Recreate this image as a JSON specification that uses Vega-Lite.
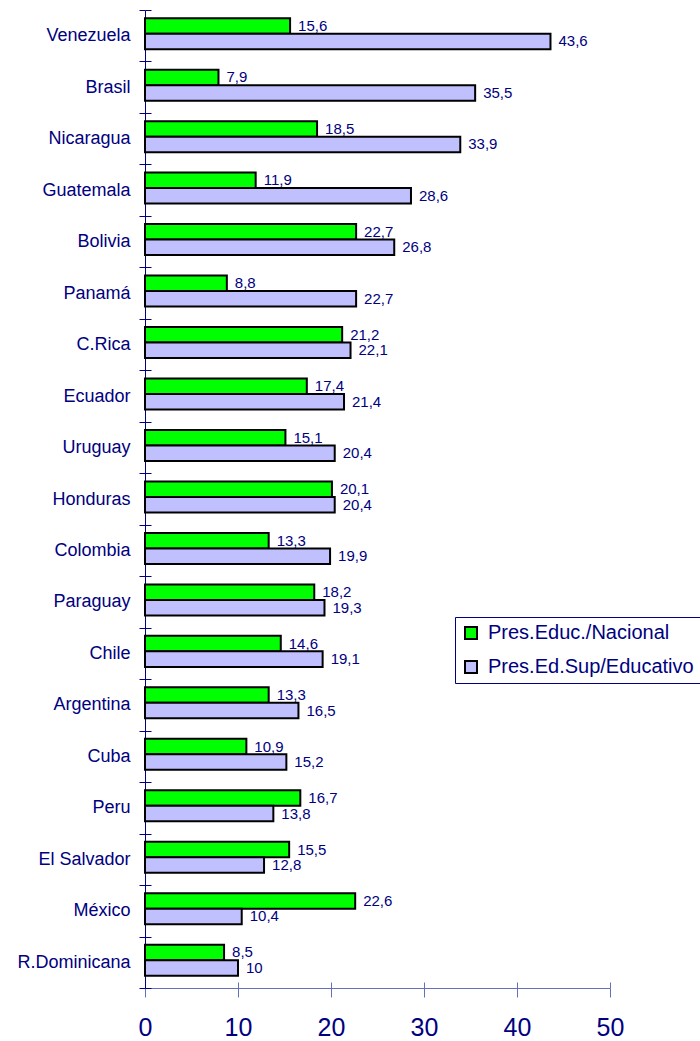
{
  "$schema": "https://vega.github.io/schema/vega-lite/v6.json",
  "width": 465,
  "height": 978,
  "autosize": "none",
  "padding": {"left": 145, "top": 10, "right": 90, "bottom": 53},
  "config": {
    "locale": {"number": {"decimal": ",", "thousands": ".", "grouping": [3], "currency": ["", ""]}},
    "view": {"stroke": null},
    "font": "Liberation Sans"
  },
  "data": {
    "values": [
      {"pais": "Venezuela", "serie": "Pres.Educ./Nacional", "valor": 15.6},
      {"pais": "Venezuela", "serie": "Pres.Ed.Sup/Educativo", "valor": 43.6},
      {"pais": "Brasil", "serie": "Pres.Educ./Nacional", "valor": 7.9},
      {"pais": "Brasil", "serie": "Pres.Ed.Sup/Educativo", "valor": 35.5},
      {"pais": "Nicaragua", "serie": "Pres.Educ./Nacional", "valor": 18.5},
      {"pais": "Nicaragua", "serie": "Pres.Ed.Sup/Educativo", "valor": 33.9},
      {"pais": "Guatemala", "serie": "Pres.Educ./Nacional", "valor": 11.9},
      {"pais": "Guatemala", "serie": "Pres.Ed.Sup/Educativo", "valor": 28.6},
      {"pais": "Bolivia", "serie": "Pres.Educ./Nacional", "valor": 22.7},
      {"pais": "Bolivia", "serie": "Pres.Ed.Sup/Educativo", "valor": 26.8},
      {"pais": "Panamá", "serie": "Pres.Educ./Nacional", "valor": 8.8},
      {"pais": "Panamá", "serie": "Pres.Ed.Sup/Educativo", "valor": 22.7},
      {"pais": "C.Rica", "serie": "Pres.Educ./Nacional", "valor": 21.2},
      {"pais": "C.Rica", "serie": "Pres.Ed.Sup/Educativo", "valor": 22.1},
      {"pais": "Ecuador", "serie": "Pres.Educ./Nacional", "valor": 17.4},
      {"pais": "Ecuador", "serie": "Pres.Ed.Sup/Educativo", "valor": 21.4},
      {"pais": "Uruguay", "serie": "Pres.Educ./Nacional", "valor": 15.1},
      {"pais": "Uruguay", "serie": "Pres.Ed.Sup/Educativo", "valor": 20.4},
      {"pais": "Honduras", "serie": "Pres.Educ./Nacional", "valor": 20.1},
      {"pais": "Honduras", "serie": "Pres.Ed.Sup/Educativo", "valor": 20.4},
      {"pais": "Colombia", "serie": "Pres.Educ./Nacional", "valor": 13.3},
      {"pais": "Colombia", "serie": "Pres.Ed.Sup/Educativo", "valor": 19.9},
      {"pais": "Paraguay", "serie": "Pres.Educ./Nacional", "valor": 18.2},
      {"pais": "Paraguay", "serie": "Pres.Ed.Sup/Educativo", "valor": 19.3},
      {"pais": "Chile", "serie": "Pres.Educ./Nacional", "valor": 14.6},
      {"pais": "Chile", "serie": "Pres.Ed.Sup/Educativo", "valor": 19.1},
      {"pais": "Argentina", "serie": "Pres.Educ./Nacional", "valor": 13.3},
      {"pais": "Argentina", "serie": "Pres.Ed.Sup/Educativo", "valor": 16.5},
      {"pais": "Cuba", "serie": "Pres.Educ./Nacional", "valor": 10.9},
      {"pais": "Cuba", "serie": "Pres.Ed.Sup/Educativo", "valor": 15.2},
      {"pais": "Peru", "serie": "Pres.Educ./Nacional", "valor": 16.7},
      {"pais": "Peru", "serie": "Pres.Ed.Sup/Educativo", "valor": 13.8},
      {"pais": "El Salvador", "serie": "Pres.Educ./Nacional", "valor": 15.5},
      {"pais": "El Salvador", "serie": "Pres.Ed.Sup/Educativo", "valor": 12.8},
      {"pais": "México", "serie": "Pres.Educ./Nacional", "valor": 22.6},
      {"pais": "México", "serie": "Pres.Ed.Sup/Educativo", "valor": 10.4},
      {"pais": "R.Dominicana", "serie": "Pres.Educ./Nacional", "valor": 8.5},
      {"pais": "R.Dominicana", "serie": "Pres.Ed.Sup/Educativo", "valor": 10}
    ]
  },
  "layer": [
    {
      "mark": {"type": "bar", "stroke": "black", "strokeWidth": 2},
      "encoding": {
        "y": {
          "field": "pais", "type": "nominal", "sort": null, "title": null,
          "scale": {"paddingInner": 0, "paddingOuter": 0},
          "axis": {"orient": "left", "tickBand": "extent", "tickSize": 6, "labelPadding": 9, "labelFontSize": 18, "labelColor": "#000080", "domainColor": "#000080", "tickColor": "#000080", "labelLimit": 0}
        },
        "yOffset": {
          "field": "serie", "type": "nominal",
          "sort": ["Pres.Educ./Nacional", "Pres.Ed.Sup/Educativo"],
          "scale": {"paddingInner": 0, "paddingOuter": 0.66, "align": 0.4}
        },
        "x": {
          "field": "valor", "type": "quantitative", "title": null,
          "scale": {"domain": [0, 50], "nice": false},
          "axis": {"orient": "bottom", "values": [0, 10, 20, 30, 40, 50], "tickSize": 9, "labelPadding": 18, "labelFontSize": 25, "labelColor": "#000080", "labelFlush": false, "labelOverlap": false, "labelBound": false, "domainColor": "#6670b8", "tickColor": "#6670b8", "grid": false}
        },
        "color": {
          "field": "serie", "type": "nominal",
          "scale": {"domain": ["Pres.Educ./Nacional", "Pres.Ed.Sup/Educativo"], "range": ["#00ff00", "#c0c0ff"]},
          "legend": {"orient": "none", "legendX": 310, "legendY": 607, "title": null, "strokeColor": "#000080", "fillColor": "white", "padding": 6, "rowPadding": 14, "symbolType": "square", "symbolSize": 144, "symbolStrokeColor": "black", "symbolStrokeWidth": 2, "symbolOpacity": 1, "labelFontSize": 20, "labelColor": "#000080", "labelOffset": 7, "labelLimit": 0}
        }
      }
    },
    {
      "mark": {"type": "text", "align": "left", "baseline": "middle", "dx": 8, "fontSize": 15, "color": "#000080"},
      "encoding": {
        "y": {
          "field": "pais", "type": "nominal", "sort": null, "title": null,
          "axis": {"orient": "left", "tickBand": "extent", "tickSize": -6, "labels": false, "domain": false, "tickColor": "#000080"}
        },
        "yOffset": {
          "field": "serie", "type": "nominal",
          "sort": ["Pres.Educ./Nacional", "Pres.Ed.Sup/Educativo"]
        },
        "x": {
          "field": "valor", "type": "quantitative", "title": null,
          "axis": {"orient": "bottom", "values": [0, 10, 20, 30, 40, 50], "tickSize": -6, "labels": false, "domain": false, "tickColor": "#6670b8", "grid": false}
        },
        "text": {"field": "valor", "type": "quantitative", "format": "~r"}
      }
    }
  ],
  "resolve": {"axis": {"x": "independent", "y": "independent"}}
}
